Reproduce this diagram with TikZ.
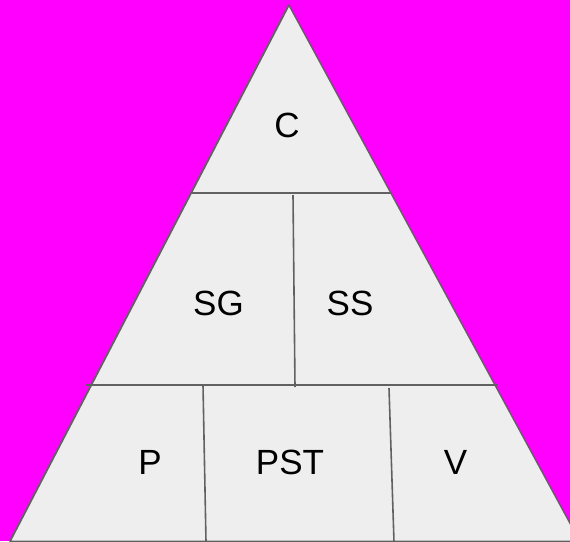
\documentclass[tikz,border=0pt]{standalone}
\usepackage{fontspec}
\setmainfont{Liberation Sans}
\definecolor{bgmag}{HTML}{FF00FF}
\definecolor{cellfill}{HTML}{EEEEEE}
\definecolor{rule}{HTML}{616161}
\begin{document}
\begin{tikzpicture}[x=1pt,y=-1pt,
  divider/.style={draw=rule,line width=1.6pt},
  lbl/.style={anchor=base,inner sep=0pt,font=\fontsize{35}{42}\selectfont}]
\useasboundingbox (0,0) rectangle (570,541);
\clip (0,0) rectangle (570,541);
\fill[bgmag] (0,0) rectangle (570,541);
% pyramid outline
\coordinate (apex) at (289,5);
\coordinate (bl) at (10,541.5);
\coordinate (br) at (580,541.5);
\filldraw[fill=cellfill,draw=rule,line width=1.6pt,line join=round] (apex) -- (br) -- (bl) -- cycle;
% upper tier divider and split
\coordinate (h1l) at (191,193);
\coordinate (h1r) at (392,193);
\draw[divider] (h1l) -- (h1r);
\coordinate (v1t) at (293,195);
\coordinate (v1b) at (295,387);
\draw[divider] (v1t) -- (v1b);
% lower tier divider and splits
\coordinate (h2l) at (86,385);
\coordinate (h2r) at (498,385);
\draw[divider] (h2l) -- (h2r);
\coordinate (v2t) at (203,385);
\coordinate (v2b) at (206,542);
\draw[divider] (v2t) -- (v2b);
\coordinate (v3t) at (389,388);
\coordinate (v3b) at (394,542);
\draw[divider] (v3t) -- (v3b);
% labels
\node[lbl] (c) at (287,137) {C};
\node[lbl] (sg) at (218.5,315) {SG};
\node[lbl] (ss) at (350,315) {SS};
\node[lbl] (p) at (150,474) {P};
\node[lbl] (pst) at (290,474) {PST};
\node[lbl] (v) at (455.5,474) {V};
\end{tikzpicture}
\end{document}
